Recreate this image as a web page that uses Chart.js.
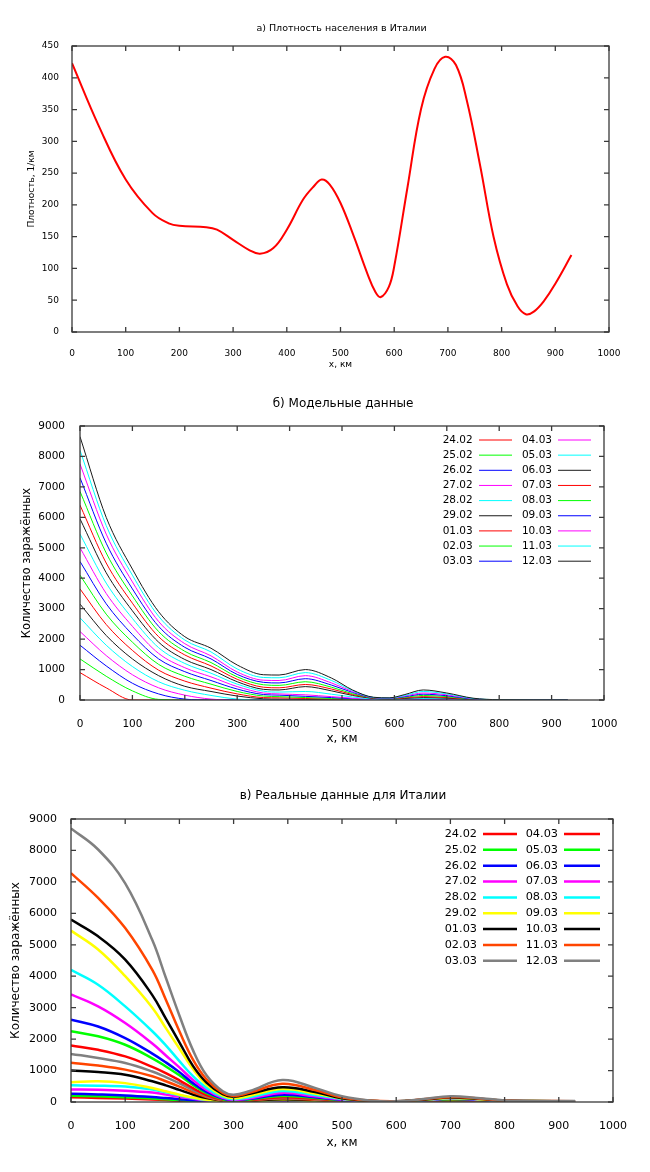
<!DOCTYPE html>
<html>
<head>
<meta charset="utf-8">
<script src="https://cdn.jsdelivr.net/npm/chart.js@4.4.1/dist/chart.umd.min.js"></script>
<style>
  body { margin: 0; background: #fff; }
  #wrap { position: relative; width: 650px; height: 1172px; }
  canvas { position: absolute; left: 0; }
</style>
</head>
<body>
<div id="wrap">
  <canvas id="chartA" width="650" height="380" style="top:0"></canvas>
  <canvas id="chartB" width="650" height="390" style="top:380px"></canvas>
  <canvas id="chartC" width="650" height="402" style="top:770px"></canvas>
</div>
<script>
// а) плотность населения
const densityX = [0, 50, 100, 150, 180, 200, 250, 270, 300, 330, 350, 375, 400, 430, 450, 465, 480, 500, 525, 550, 565, 575, 590, 600, 625, 650, 675, 695, 715, 735, 760, 785, 810, 830, 845, 860, 880, 900, 930];
const densityY = [423, 324, 240, 187, 171, 167, 165, 161, 145, 129, 123, 132, 161, 208, 229, 240, 232, 203, 150, 92, 63, 55, 71, 103, 229, 351, 414, 433, 420, 365, 262, 150, 75, 40, 28, 32, 50, 76, 121];

const dates = ['24.02', '25.02', '26.02', '27.02', '28.02', '29.02', '01.03', '02.03', '03.03',
               '04.03', '05.03', '06.03', '07.03', '08.03', '09.03', '10.03', '11.03', '12.03'];

// б) модельные данные, по одной строке на дату
const modelX = [0, 50, 100, 150, 200, 250, 300, 350, 380, 430, 480, 520, 560, 590, 620, 655, 700, 750, 800, 930];
const modelValues = [
  [900, 400, 0, 0, 0, 0, 0, 0, 0, 0, 0, 0, 0, 0, 0, 0, 0, 0, 0, 0],
  [1350, 780, 300, 20, 0, 0, 0, 0, 0, 0, 0, 0, 0, 0, 0, 0, 0, 0, 0, 0],
  [1800, 1120, 550, 200, 30, 0, 0, 0, 0, 0, 0, 0, 0, 0, 0, 0, 0, 0, 0, 0],
  [2250, 1460, 830, 400, 160, 30, 0, 0, 0, 0, 0, 0, 0, 0, 0, 0, 0, 0, 0, 0],
  [2700, 1800, 1100, 600, 320, 150, 30, 0, 0, 0, 0, 0, 0, 0, 0, 0, 0, 0, 0, 0],
  [3150, 2120, 1350, 800, 450, 280, 130, 40, 30, 20, 10, 0, 0, 0, 0, 0, 0, 0, 0, 0],
  [3650, 2480, 1630, 980, 620, 390, 200, 80, 70, 50, 30, 10, 0, 0, 0, 0, 0, 0, 0, 0],
  [4100, 2820, 1900, 1170, 780, 520, 280, 130, 110, 80, 50, 20, 10, 5, 5, 5, 5, 0, 0, 0],
  [4550, 3160, 2150, 1350, 930, 640, 360, 180, 160, 120, 80, 40, 15, 10, 10, 15, 10, 0, 0, 0],
  [5000, 3500, 2420, 1530, 1060, 760, 440, 230, 200, 170, 110, 60, 20, 15, 20, 30, 20, 5, 0, 0],
  [5450, 3840, 2680, 1720, 1200, 880, 520, 290, 260, 280, 190, 100, 30, 20, 30, 50, 40, 10, 0, 0],
  [5950, 4180, 2930, 1900, 1330, 1000, 600, 350, 330, 440, 300, 150, 50, 30, 50, 80, 60, 15, 0, 0],
  [6400, 4500, 3180, 2080, 1480, 1120, 680, 420, 400, 510, 360, 180, 60, 40, 70, 110, 80, 20, 0, 0],
  [6850, 4830, 3420, 2250, 1600, 1230, 760, 500, 480, 600, 420, 210, 70, 50, 90, 150, 110, 25, 5, 0],
  [7300, 5150, 3650, 2420, 1730, 1350, 840, 580, 560, 700, 490, 250, 75, 55, 110, 190, 140, 30, 5, 0],
  [7750, 5450, 3880, 2580, 1850, 1450, 920, 650, 640, 800, 560, 280, 80, 60, 130, 230, 170, 40, 5, 0],
  [8200, 5730, 4100, 2750, 1970, 1580, 1020, 740, 730, 900, 640, 310, 85, 65, 150, 280, 200, 50, 10, 0],
  [8650, 6000, 4300, 2900, 2080, 1700, 1150, 830, 820, 1000, 720, 330, 90, 70, 180, 330, 230, 60, 10, 0]
];

// в) реальные данные
const realX = [0, 50, 100, 150, 175, 200, 225, 250, 280, 300, 330, 390, 450, 500, 550, 600, 650, 700, 750, 800, 850, 930];
const realValues = [
  [150, 130, 110, 80, 60, 40, 25, 10, 5, 5, 10, 20, 15, 10, 5, 5, 10, 15, 10, 5, 5, 5],
  [200, 180, 150, 110, 85, 60, 38, 20, 8, 5, 12, 30, 20, 12, 5, 5, 12, 20, 15, 8, 5, 5],
  [260, 240, 210, 160, 125, 90, 55, 30, 10, 8, 15, 40, 30, 15, 8, 5, 15, 25, 20, 10, 8, 5],
  [400, 390, 360, 300, 235, 165, 100, 50, 15, 10, 20, 50, 35, 20, 10, 8, 20, 35, 25, 12, 10, 8],
  [530, 520, 490, 400, 310, 215, 130, 65, 20, 12, 25, 60, 40, 22, 12, 10, 25, 40, 30, 15, 12, 10],
  [630, 660, 600, 445, 340, 230, 140, 70, 25, 15, 30, 70, 45, 25, 12, 10, 25, 45, 35, 18, 12, 10],
  [1000, 955, 870, 660, 530, 385, 240, 125, 40, 25, 45, 90, 60, 30, 15, 10, 30, 55, 40, 20, 15, 12],
  [1250, 1160, 1030, 820, 660, 490, 310, 160, 50, 30, 55, 110, 75, 35, 15, 12, 35, 60, 45, 22, 16, 14],
  [1530, 1400, 1240, 970, 790, 590, 380, 190, 60, 35, 60, 130, 90, 40, 18, 12, 40, 70, 50, 25, 18, 15],
  [1800, 1660, 1450, 1120, 920, 690, 440, 220, 70, 40, 65, 150, 100, 45, 20, 14, 45, 80, 55, 28, 20, 16],
  [2250, 2090, 1820, 1390, 1130, 850, 540, 280, 90, 50, 80, 190, 125, 55, 22, 15, 50, 90, 65, 30, 22, 18],
  [2620, 2400, 2030, 1540, 1260, 950, 600, 320, 110, 60, 100, 230, 150, 65, 25, 15, 55, 100, 70, 35, 25, 20],
  [3420, 3040, 2510, 1860, 1480, 1100, 700, 380, 130, 70, 120, 290, 180, 80, 28, 16, 60, 110, 80, 38, 27, 20],
  [4200, 3730, 3040, 2250, 1800, 1300, 820, 450, 160, 90, 150, 350, 220, 95, 32, 18, 65, 120, 85, 40, 28, 22],
  [5450, 4850, 4000, 3000, 2350, 1700, 1050, 550, 200, 120, 200, 410, 270, 110, 36, 20, 70, 130, 90, 42, 30, 24],
  [5800, 5270, 4530, 3400, 2650, 1900, 1150, 620, 250, 170, 260, 470, 320, 120, 40, 20, 75, 140, 100, 45, 32, 25],
  [7280, 6490, 5530, 4200, 3250, 2250, 1350, 720, 290, 190, 300, 580, 380, 140, 45, 22, 85, 155, 115, 48, 34, 26],
  [8700, 8030, 6950, 5150, 3950, 2750, 1650, 850, 340, 230, 350, 700, 450, 180, 50, 22, 95, 180, 130, 50, 35, 28]
];

const modelColors = ['#ff0000', '#00ff00', '#0000ff', '#ff00ff', '#00ffff', '#1a1a1a'];
const realColors = ['#ff0000', '#00ff00', '#0000ff', '#ff00ff', '#00ffff', '#ffff00', '#000000', '#ff4500', '#808080'];

Chart.defaults.font.family = '"DejaVu Sans", sans-serif';
Chart.defaults.color = '#000';

const toPoints = (xs, ys) => xs.map((x, i) => ({ x: x, y: ys[i] }));

// рамка с засечками внутрь, как в gnuplot
const frame = {
  id: 'frame',
  afterDatasetsDraw(chart) {
    const { ctx, chartArea: a, scales } = chart;
    const len = 5;
    ctx.save();
    ctx.strokeStyle = '#3a3a3a';
    ctx.lineWidth = 1.3;
    ctx.beginPath();
    scales.x.ticks.forEach(t => {
      const px = scales.x.getPixelForValue(t.value);
      ctx.moveTo(px, a.bottom); ctx.lineTo(px, a.bottom - len);
      ctx.moveTo(px, a.top); ctx.lineTo(px, a.top + len);
    });
    scales.y.ticks.forEach(t => {
      const py = scales.y.getPixelForValue(t.value);
      ctx.moveTo(a.left, py); ctx.lineTo(a.left + len, py);
      ctx.moveTo(a.right, py); ctx.lineTo(a.right - len, py);
    });
    ctx.stroke();
    ctx.strokeRect(a.left, a.top, a.right - a.left, a.bottom - a.top);
    ctx.restore();
  }
};

// заголовок по центру области графика
const plotTitle = {
  id: 'plotTitle',
  afterDraw(chart, args, opts) {
    const { ctx, chartArea: a } = chart;
    ctx.save();
    ctx.font = opts.size + 'px "DejaVu Sans"';
    ctx.fillStyle = '#000';
    ctx.textAlign = 'center';
    ctx.textBaseline = 'middle';
    ctx.fillText(opts.text, (a.left + a.right) / 2 + 1, opts.y);
    ctx.restore();
  }
};

// легенда в две колонки: подпись, затем образец линии
const gnuKey = {
  id: 'gnuKey',
  afterDatasetsDraw(chart, args, opts) {
    const { ctx, chartArea: a } = chart;
    ctx.save();
    ctx.font = opts.size + 'px "DejaVu Sans"';
    ctx.fillStyle = '#000';
    ctx.textAlign = 'right';
    ctx.textBaseline = 'middle';
    chart.data.datasets.forEach((ds, i) => {
      const col = opts.cols[Math.floor(i / opts.rows)];
      const y = a.top + opts.first + (i % opts.rows) * opts.step;
      ctx.fillText(ds.label, a.right + col.text, y);
      ctx.strokeStyle = ds.borderColor;
      ctx.lineWidth = ds.borderWidth;
      ctx.beginPath();
      ctx.moveTo(a.right + col.from, y);
      ctx.lineTo(a.right + col.to, y);
      ctx.stroke();
    });
    ctx.restore();
  }
};

const makeOptions = (p) => ({
  responsive: false,
  animation: false,
  layout: { padding: { top: p.padTop, right: p.padRight, bottom: 0, left: 0 } },
  plugins: {
    legend: { display: false },
    tooltip: { enabled: false },
    title: { display: false },
    plotTitle: { text: p.title, size: p.titleSize, y: p.titleY },
    gnuKey: p.key
  },
  elements: { point: { radius: 0 } },
  scales: {
    x: {
      type: 'linear', min: 0, max: 1000,
      ticks: { stepSize: 100, autoSkip: false, maxRotation: 0, padding: p.xTickPad,
               font: { size: p.tickSize }, callback: v => String(v) },
      grid: { display: false },
      border: { display: false },
      title: { display: true, text: 'x, км', font: { size: p.xLabelSize },
               padding: { top: 0, bottom: p.xTitlePad } },
      afterFit: s => { s.height = p.xHeight; }
    },
    y: {
      type: 'linear', min: 0, max: p.yMax,
      ticks: { stepSize: p.yStep, padding: p.yTickPad, font: { size: p.tickSize },
               callback: v => String(v) },
      grid: { display: false },
      border: { display: false },
      title: { display: true, text: p.yTitle, font: { size: p.yLabelSize },
               padding: { top: p.yTitlePad, bottom: 0 } },
      afterFit: s => { s.width = p.yWidth; }
    }
  }
});

const seriesSets = (xs, rows, colors, width, smooth) => rows.map((row, i) => ({
  label: dates[i],
  data: toPoints(xs, row),
  borderColor: colors[i % colors.length],
  borderWidth: width,
  fill: false,
  cubicInterpolationMode: smooth,
  tension: 0.4,
  order: rows.length - i
}));

new Chart(document.getElementById('chartA'), {
  type: 'line',
  data: {
    datasets: [{
      label: 'density',
      data: toPoints(densityX, densityY),
      borderColor: '#ff0000',
      borderWidth: 2,
      fill: false,
      tension: 0.4
    }]
  },
  options: makeOptions({
    title: 'а) Плотность населения в Италии', titleSize: 9.5, titleY: 28.5,
    padTop: 46, padRight: 41, xHeight: 48, yWidth: 72,
    tickSize: 9, xTickPad: 8, yTickPad: 5,
    xLabelSize: 9, xTitlePad: 9.6, yLabelSize: 9, yTitlePad: 26.6,
    yTitle: 'Плотность, 1/км', yMax: 450, yStep: 50
  }),
  plugins: [frame, plotTitle]
});

new Chart(document.getElementById('chartB'), {
  type: 'line',
  data: { datasets: seriesSets(modelX, modelValues, modelColors, 1, 'monotone') },
  options: makeOptions({
    title: 'б) Модельные данные', titleSize: 12, titleY: 24,
    padTop: 46, padRight: 46, xHeight: 70, yWidth: 80,
    tickSize: 10.5, xTickPad: 9.7, yTickPad: 7,
    xLabelSize: 12, xTitlePad: 23.8, yLabelSize: 11.5, yTitlePad: 20.1,
    yTitle: 'Количество заражённых', yMax: 9000, yStep: 1000,
    key: { size: 10.5, rows: 9, first: 14, step: 15.15,
           cols: [{ text: -131.3, from: -125, to: -92 }, { text: -52, from: -46, to: -13 }] }
  }),
  plugins: [frame, plotTitle, gnuKey]
});

new Chart(document.getElementById('chartC'), {
  type: 'line',
  data: { datasets: seriesSets(realX, realValues, realColors, 2.5, 'default') },
  options: makeOptions({
    title: 'в) Реальные данные для Италии', titleSize: 12, titleY: 26,
    padTop: 49, padRight: 37, xHeight: 70, yWidth: 71,
    tickSize: 11, xTickPad: 9.4, yTickPad: 6,
    xLabelSize: 12, xTitlePad: 22, yLabelSize: 12, yTitlePad: 8.2,
    yTitle: 'Количество заражённых', yMax: 9000, yStep: 1000,
    key: { size: 11.3, rows: 9, first: 15, step: 15.85,
           cols: [{ text: -136, from: -130, to: -96 }, { text: -55, from: -49, to: -13 }] }
  }),
  plugins: [frame, plotTitle, gnuKey]
});
</script>
</body>
</html>
